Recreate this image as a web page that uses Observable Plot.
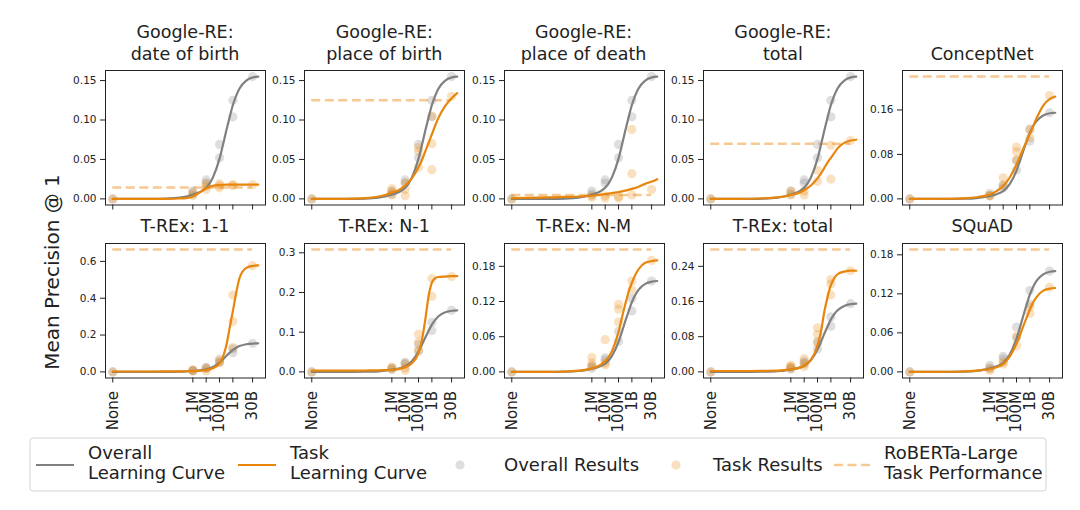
<!DOCTYPE html>
<html><head><meta charset="utf-8">
<script src="https://cdn.jsdelivr.net/npm/d3@7"></script>
<script src="https://cdn.jsdelivr.net/npm/@observablehq/plot@0.6"></script>
<style>
body{margin:0;background:#fff;}
#fig{position:relative;width:1080px;height:510px;overflow:hidden;font-family:"DejaVu Sans",sans-serif;}
#fig svg.panel{position:absolute;max-width:none;}
#overlay{position:absolute;left:0;top:0;pointer-events:none;}
</style></head><body><div id="fig"></div>
<script>
// ---- data ----
const sizes = [1, 1e6, 1e7, 1e8, 1e9, 3e10];
const sizeLabels = ["None", "1M", "10M", "100M", "1B", "30B"];
const curveLogX = [0, 1, 2, 3, 4, 5, 5.5, 6, 6.5, 7, 7.5, 8, 8.25, 8.5, 8.75, 9, 9.25, 9.5, 10, 10.5, 10.9];

const overallCurve = [0, 0, 0, 0, 0.0003, 0.0015, 0.003, 0.0055, 0.0085, 0.014, 0.027, 0.051, 0.068, 0.086, 0.103, 0.119, 0.131, 0.140, 0.150, 0.154, 0.155];
const overallPts = [[0], [0.006, 0.01], [0.02, 0.024], [0.052, 0.069], [0.104, 0.125], [0.155]];

const titles = [
  ["Google-RE:", "date of birth"], ["Google-RE:", "place of birth"], ["Google-RE:", "place of death"],
  ["Google-RE:", "total"], ["ConceptNet"],
  ["T-REx: 1-1"], ["T-REx: N-1"], ["T-REx: N-M"], ["T-REx: total"], ["SQuAD"]
];
const robertaLarge = [0.0144, 0.125, 0.005, 0.070, 0.22, 0.664, 0.308, 0.2085, 0.278, 0.188];
const yTicks = [
  [0, 0.05, 0.10, 0.15], [0, 0.05, 0.10, 0.15], [0, 0.05, 0.10, 0.15], [0, 0.05, 0.10, 0.15], [0, 0.08, 0.16],
  [0, 0.2, 0.4, 0.6], [0, 0.1, 0.2, 0.3], [0, 0.06, 0.12, 0.18], [0, 0.08, 0.16, 0.24], [0, 0.06, 0.12, 0.18]
];
const yDigits = [2, 2, 2, 2, 2, 1, 1, 2, 2, 2];

const dobCurve = [0, 0, 0, 0, 0.0001, 0.0005, 0.001, 0.003, 0.008, 0.0135, 0.0165, 0.0175, 0.0178, 0.018, 0.018, 0.018, 0.018, 0.018, 0.018, 0.018, 0.018];
const pobCurve = [0, 0, 0, 0.0003, 0.001, 0.003, 0.005, 0.008, 0.011, 0.017, 0.026, 0.040, 0.049, 0.060, 0.071, 0.082, 0.093, 0.103, 0.118, 0.128, 0.134];
const podCurve = [0.001, 0.0012, 0.0015, 0.002, 0.0025, 0.003, 0.0035, 0.004, 0.005, 0.006, 0.0075, 0.0085, 0.0095, 0.0105, 0.0115, 0.0127, 0.014, 0.0155, 0.019, 0.022, 0.025];
const greTotalCurve = [0, 0, 0, 0.0002, 0.0008, 0.002, 0.003, 0.005, 0.007, 0.011, 0.017, 0.026, 0.032, 0.039, 0.046, 0.052, 0.058, 0.064, 0.071, 0.074, 0.075];
const conceptNetCurve = [0, 0, 0, 0.0002, 0.001, 0.003, 0.005, 0.008, 0.014, 0.023, 0.039, 0.062, 0.076, 0.090, 0.104, 0.117, 0.131, 0.145, 0.168, 0.180, 0.184];
const trex11Curve = [0.002, 0.002, 0.002, 0.002, 0.0025, 0.003, 0.0035, 0.004, 0.006, 0.010, 0.020, 0.045, 0.080, 0.140, 0.235, 0.330, 0.430, 0.510, 0.565, 0.576, 0.578];
const trexN1Curve = [0.003, 0.003, 0.003, 0.003, 0.0035, 0.004, 0.0045, 0.005, 0.007, 0.012, 0.022, 0.048, 0.080, 0.130, 0.190, 0.225, 0.236, 0.239, 0.240, 0.241, 0.241];
const trexNMCurve = [0, 0, 0, 0.0002, 0.0005, 0.002, 0.0035, 0.006, 0.010, 0.018, 0.035, 0.068, 0.092, 0.115, 0.136, 0.152, 0.165, 0.175, 0.186, 0.189, 0.190];
const trexTotalCurve = [0.002, 0.002, 0.002, 0.002, 0.0025, 0.003, 0.004, 0.006, 0.008, 0.014, 0.027, 0.060, 0.090, 0.135, 0.170, 0.197, 0.213, 0.222, 0.228, 0.230, 0.230];
const squadCurve = [0, 0, 0, 0.0002, 0.0007, 0.002, 0.003, 0.004, 0.007, 0.012, 0.024, 0.043, 0.056, 0.070, 0.083, 0.096, 0.107, 0.115, 0.125, 0.128, 0.129];

const dobPts = [[0], [0.004, 0.008], [0.012, 0.016, 0.019], [0.014, 0.017, 0.019], [0.017, 0.018], [0.018]];
const pobPts = [[0], [0.005, 0.009, 0.013], [0.004, 0.012, 0.02], [0.04, 0.06, 0.065], [0.037, 0.07, 0.105], [0.13]];
const podPts = [[0], [0.002, 0.004], [0.001, 0.004], [0.001, 0.003], [0.005, 0.032, 0.088], [0.012]];
const greTotalPts = [[0], [0.005, 0.01], [0.005, 0.01], [0.022, 0.036], [0.025, 0.068], [0.074]];
const conceptNetPts = [[0], [0.005, 0.006], [0.025, 0.038], [0.07, 0.085, 0.093], [0.11, 0.125], [0.186]];
const trex11Pts = [[0], [0.005, 0.01], [0.005, 0.02], [0.05, 0.06], [0.132, 0.274, 0.417], [0.577]];
const trexN1Pts = [[0], [0.008, 0.012], [0.004, 0.01, 0.02], [0.055, 0.075, 0.095], [0.19, 0.235], [0.24]];
const trexNMPts = [[0], [0.01, 0.015, 0.025], [0.012, 0.015, 0.055], [0.085, 0.107, 0.115], [0.14, 0.155], [0.19]];
const trexTotalPts = [[0], [0.008, 0.012, 0.015], [0.012, 0.018, 0.03], [0.065, 0.085, 0.1], [0.175, 0.2, 0.21], [0.23]];
const squadPts = [[0], [0.002, 0.005], [0.012, 0.015], [0.04, 0.055], [0.09, 0.1], [0.13]];

const taskCurves = [dobCurve, pobCurve, podCurve, greTotalCurve, conceptNetCurve, trex11Curve, trexN1Curve, trexNMCurve, trexTotalCurve, squadCurve];
const taskPts = [dobPts, pobPts, podPts, greTotalPts, conceptNetPts, trex11Pts, trexN1Pts, trexNMPts, trexTotalPts, squadPts];

// ---- styles ----
const GRAY = "#808080", ORANGE = "#e8860c", DASH = "#f6c992";
const FONT = "DejaVu Sans";

// ---- layout ----
const fig = document.getElementById("fig");
const frameW = 160, frameH = 134.5;
const frameLefts = [105, 304.3, 503.6, 702.9, 902.2];
const frameTops = [70, 242.5];

// x is positioned by log10 of the training-data size
const toCurve = ys => curveLogX.map((lx, i) => ({lx, y: ys[i]}));
const toPts = groups => groups.flatMap((vals, i) => vals.map(v => ({lx: Math.log10(sizes[i]), y: v})));
const sizeLog = sizes.map(Math.log10);

const lxLo = d3.min(curveLogX), lxHi = d3.max(curveLogX), lxPad = 0.05 * (lxHi - lxLo);
const xDomain = [lxLo - lxPad, lxHi + lxPad];

taskCurves.forEach((tc, i) => {
  const row = Math.floor(i / 5), col = i % 5;
  const oc = toCurve(overallCurve), tcp = toCurve(tc);
  const op = toPts(overallPts), tp = toPts(taskPts[i]);
  const allY = [...oc, ...tcp, ...op, ...tp].map(d => d.y).concat([robertaLarge[i]]);
  const yLo = d3.min(allY), yHi = d3.max(allY), yPad = 0.05 * (yHi - yLo);
  const mL = 50, mR = 8, mT = 4, mB = row === 1 ? 66 : 12;
  const fmt = d3.format("." + yDigits[i] + "f");
  const plot = Plot.plot({
    width: mL + frameW + mR, height: mT + frameH + mB,
    marginLeft: mL, marginRight: mR, marginTop: mT, marginBottom: mB,
    style: {fontFamily: FONT, background: "transparent", overflow: "visible", color: "#222"},
    x: {type: "linear", domain: xDomain, axis: null},
    y: {domain: [yLo - yPad, yHi + yPad], axis: null},
    marks: [
      Plot.ruleY([robertaLarge[i]], {x1: sizeLog[0], x2: sizeLog[sizeLog.length - 1], stroke: DASH, strokeWidth: 2.5, strokeDasharray: "9,4.5"}),
      Plot.dot(op, {x: "lx", y: "y", r: 4.6, fill: GRAY, fillOpacity: 0.26, stroke: null}),
      Plot.dot(tp, {x: "lx", y: "y", r: 4.6, fill: ORANGE, fillOpacity: 0.26, stroke: null}),
      Plot.line(oc, {x: "lx", y: "y", stroke: GRAY, strokeWidth: 2.2, curve: "monotone-x"}),
      Plot.line(tcp, {x: "lx", y: "y", stroke: ORANGE, strokeWidth: 2.2, curve: "monotone-x"}),
      Plot.frame({stroke: "#222", strokeWidth: 1}),
      Plot.axisY(yTicks[i], {label: null, tickSize: 5, tickPadding: 4, fontSize: 10.5, tickFormat: fmt, stroke: "#222", fill: "#222"}),
      row === 1
        ? Plot.axisX(sizeLog, {label: null, tickSize: 5, tickPadding: 8, tickRotate: -90, fontSize: 15, fill: "#222", stroke: "#222",
            tickFormat: d => sizeLabels[sizeLog.indexOf(d)]})
        : Plot.axisX(sizeLog, {label: null, tickSize: 5, tickFormat: () => "", stroke: "#222"})
    ]
  });
  plot.classList.add("panel");
  plot.style.left = (frameLefts[col] - mL) + "px";
  plot.style.top = (frameTops[row] - mT) + "px";
  fig.appendChild(plot);
});

// ---- overlay: titles, y label, legend ----
const svg = d3.select(fig).append("svg").attr("id", "overlay").attr("width", 1080).attr("height", 510)
  .style("font-family", FONT).style("fill", "#222");
titles.forEach((lines, i) => {
  const row = Math.floor(i / 5), col = i % 5;
  const cx = frameLefts[col] + frameW / 2, base = frameTops[row] - 10.5;
  lines.forEach((t, j) => {
    svg.append("text").attr("x", cx).attr("y", base - (lines.length - 1 - j) * 21.5)
      .attr("text-anchor", "middle").attr("font-size", 17.5).text(t);
  });
});
svg.append("text").attr("transform", "translate(59,272) rotate(-90)").attr("text-anchor", "middle")
  .attr("font-size", 20).text("Mean Precision @ 1");

const lg = svg.append("g").attr("font-size", 18);
lg.append("rect").attr("x", 30).attr("y", 438).attr("width", 1016).attr("height", 53).attr("rx", 3)
  .attr("fill", "#fff").attr("stroke", "#d4d4d4").attr("stroke-width", 1);
const ly = 465;
lg.append("line").attr("x1", 36).attr("x2", 74).attr("y1", ly).attr("y2", ly).attr("stroke", GRAY).attr("stroke-width", 2.2);
lg.append("text").attr("x", 88).attr("y", 459).text("Overall");
lg.append("text").attr("x", 88).attr("y", 479).text("Learning Curve");
lg.append("line").attr("x1", 238).attr("x2", 276).attr("y1", ly).attr("y2", ly).attr("stroke", ORANGE).attr("stroke-width", 2.2);
lg.append("text").attr("x", 290).attr("y", 459).text("Task");
lg.append("text").attr("x", 290).attr("y", 479).text("Learning Curve");
lg.append("circle").attr("cx", 460).attr("cy", ly).attr("r", 4.6).attr("fill", GRAY).attr("fill-opacity", 0.26);
lg.append("text").attr("x", 504).attr("y", 471).text("Overall Results");
lg.append("circle").attr("cx", 676).attr("cy", ly).attr("r", 4.6).attr("fill", ORANGE).attr("fill-opacity", 0.26);
lg.append("text").attr("x", 713).attr("y", 471).text("Task Results");
lg.append("line").attr("x1", 834).attr("x2", 870).attr("y1", ly).attr("y2", ly).attr("stroke", DASH).attr("stroke-width", 2.5).attr("stroke-dasharray", "9,4.5");
lg.append("text").attr("x", 884).attr("y", 459).text("RoBERTa-Large");
lg.append("text").attr("x", 884).attr("y", 479).text("Task Performance");
</script></body></html>
